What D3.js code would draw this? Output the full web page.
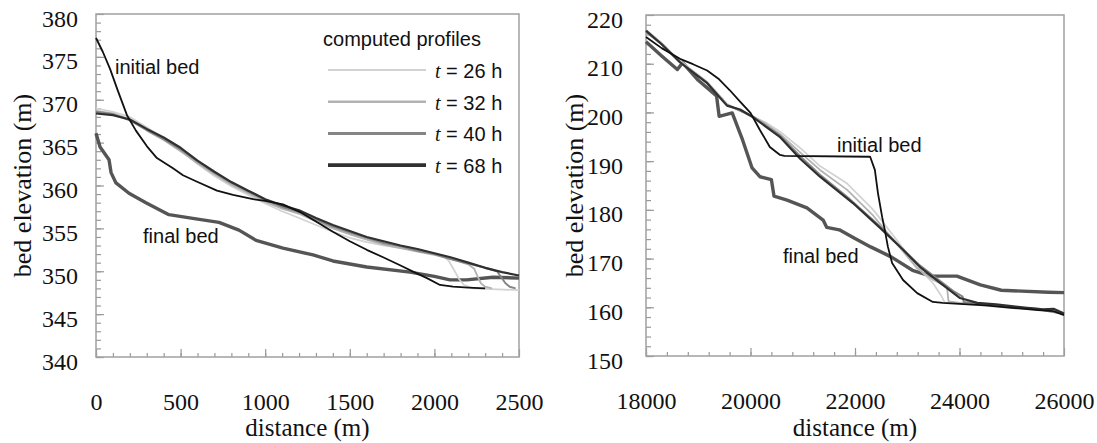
<!DOCTYPE html>
<html>
<head>
<meta charset="utf-8">
<script src="https://cdn.jsdelivr.net/npm/d3@7"></script>
<style>
    body { margin: 0; background: #fff; }
    svg { display: block; }
    .tick-label { font-family: 'Liberation Serif', 'Times New Roman', serif; font-size: 24px; fill: #111; }
</style>
</head>
<body>
<div class="chart-wrapper"></div>
<script>
// ---- left panel (reservoir reach, 0 - 2500 m) ----
var leftInitial = [[0, 377.2], [40, 375.6], [83, 373.6], [130, 371.0], [183, 368.2], [236, 366.4], [300, 364.6], [360, 363.2], [455, 362.0], [514, 361.2], [591, 360.5], [715, 359.4], [810, 358.9], [928, 358.4], [1000, 358.2], [1105, 357.8], [1206, 356.9], [1300, 355.8], [1400, 354.6], [1500, 353.5], [1600, 352.5], [1700, 351.6], [1797, 350.7], [1880, 349.9], [1956, 349.2], [2033, 348.4], [2110, 348.2], [2200, 348.1], [2300, 348.0]];
var leftFinal = [[0, 366.1], [24, 364.5], [77, 363.0], [89, 361.5], [118, 360.3], [195, 359.1], [295, 358.0], [431, 356.6], [591, 356.1], [727, 355.7], [845, 354.8], [946, 353.6], [1105, 352.7], [1283, 351.9], [1400, 351.2], [1600, 350.5], [1856, 349.9], [2000, 349.4], [2092, 349.0], [2190, 349.0], [2346, 349.3], [2500, 349.2]];
var left26h = [[0, 369.0], [100, 368.6], [200, 368.0], [300, 366.8], [400, 365.5], [500, 364.1], [600, 362.5], [700, 361.1], [800, 359.9], [900, 358.9], [1000, 357.9], [1100, 357.0], [1200, 356.2], [1300, 355.4], [1400, 354.6], [1500, 353.9], [1600, 353.4], [1700, 353.0], [1800, 352.7], [1900, 352.4], [2000, 352.1], [2050, 351.8], [2085, 351.2], [2115, 350.2], [2145, 349.1], [2175, 348.4], [2230, 348.0], [2500, 347.8]];
var left32h = [[0, 368.7], [100, 368.4], [200, 367.7], [300, 366.4], [400, 365.3], [500, 364.0], [600, 362.6], [700, 361.3], [800, 360.1], [900, 359.1], [1000, 358.1], [1100, 357.3], [1200, 356.7], [1300, 355.8], [1400, 355.0], [1500, 354.3], [1600, 353.7], [1700, 353.1], [1800, 352.7], [1900, 352.3], [2000, 351.9], [2100, 351.4], [2200, 350.8], [2235, 350.3], [2255, 349.4], [2275, 348.6], [2300, 348.2], [2340, 348.0]];
var left40h = [[0, 368.6], [100, 368.3], [200, 367.6], [300, 366.5], [400, 365.4], [500, 364.2], [600, 362.8], [700, 361.5], [800, 360.3], [900, 359.3], [1000, 358.3], [1100, 357.5], [1200, 356.9], [1300, 356.0], [1400, 355.2], [1500, 354.5], [1600, 353.9], [1700, 353.3], [1800, 352.9], [1900, 352.4], [2000, 352.0], [2100, 351.4], [2200, 350.9], [2300, 350.4], [2370, 350.0], [2395, 349.3], [2420, 348.6], [2445, 348.2], [2480, 348.0]];
var left68h = [[0, 368.4], [100, 368.2], [200, 367.7], [300, 366.6], [400, 365.6], [500, 364.4], [600, 362.9], [700, 361.6], [800, 360.4], [900, 359.4], [1000, 358.4], [1100, 357.7], [1200, 357.1], [1300, 356.2], [1400, 355.4], [1500, 354.7], [1600, 354.0], [1700, 353.5], [1800, 353.0], [1900, 352.6], [2000, 352.1], [2100, 351.6], [2200, 351.0], [2300, 350.4], [2400, 349.9], [2500, 349.5]];

// ---- right panel (dam reach, 18000 - 26000 m) ----
var rightInitial = [[18000, 215.5], [18300, 213.2], [18650, 211.0], [18900, 209.9], [19170, 208.6], [19400, 206.8], [19600, 204.6], [19800, 202.2], [20000, 199.9], [20180, 196.4], [20370, 192.9], [20560, 191.3], [20650, 191.1], [22290, 190.9], [22380, 188.2], [22440, 183.4], [22520, 178.5], [22570, 175.9], [22630, 172.4], [22710, 169.1], [22920, 165.6], [23190, 162.9], [23490, 161.1], [23680, 160.9], [24000, 160.7], [24500, 160.4], [25000, 159.9], [25500, 159.4], [25800, 159.2], [26000, 158.4]];
var rightFinal = [[18000, 214.5], [18300, 211.6], [18600, 208.8], [18700, 210.2], [19000, 206.6], [19350, 203.4], [19400, 199.2], [19650, 199.9], [19850, 194.3], [20030, 188.6], [20180, 186.8], [20400, 186.2], [20450, 182.8], [20700, 182.0], [21080, 180.4], [21390, 177.9], [21460, 176.4], [21700, 175.9], [22000, 174.1], [22300, 172.4], [22700, 170.3], [23100, 167.6], [23450, 166.4], [23950, 166.4], [24400, 164.6], [24800, 163.5], [25700, 163.1], [26000, 163.0]];
var right26h = [[18000, 217.0], [18300, 214.3], [18650, 210.6], [19170, 206.3], [19550, 201.8], [19800, 200.3], [20050, 199.1], [20300, 197.9], [20560, 196.1], [20950, 192.7], [21330, 189.0], [21850, 185.4], [22350, 180.0], [22800, 173.8], [23190, 168.3], [23490, 165.0], [23660, 162.2], [23720, 160.9], [24000, 160.8], [24500, 160.3], [25000, 159.8], [25500, 159.5], [26000, 158.9]];
var right32h = [[18000, 216.6], [18300, 214.1], [18650, 210.4], [19170, 206.2], [19550, 201.6], [19800, 200.5], [20050, 199.2], [20300, 197.6], [20560, 195.6], [20950, 191.8], [21330, 188.2], [21850, 184.1], [22350, 178.8], [22800, 173.0], [23190, 168.0], [23500, 165.6], [23760, 164.2], [23790, 161.2], [24000, 160.9], [24500, 160.5], [25000, 160.0], [25500, 159.7], [26000, 158.8]];
var right40h = [[18000, 216.5], [18300, 214.0], [18650, 210.3], [19170, 206.1], [19550, 201.5], [19800, 200.4], [20050, 199.1], [20560, 195.3], [20950, 191.0], [21330, 187.2], [21900, 182.2], [22450, 176.9], [22900, 172.1], [23240, 168.6], [23630, 165.4], [23900, 163.2], [24060, 162.2], [24080, 161.1], [24500, 160.6], [25000, 160.1], [25500, 159.6], [26000, 158.6]];
var right68h = [[18000, 216.8], [18300, 214.0], [18650, 210.3], [19170, 206.0], [19550, 201.4], [19800, 200.6], [20050, 199.0], [20560, 195.0], [20950, 190.5], [21330, 186.8], [21960, 181.4], [22480, 176.3], [22920, 171.8], [23240, 168.3], [23630, 165.0], [24010, 161.9], [24340, 160.9], [24700, 160.6], [25200, 160.0], [25600, 159.6], [25800, 159.7], [26000, 158.7]];

var legendLabels = ["26", "32", "40", "68"];
var leftXTicks = [0, 500, 1000, 1500, 2000, 2500];
var leftYTicks = [340, 345, 350, 355, 360, 365, 370, 375, 380];
var rightXTicks = [18000, 20000, 22000, 24000, 26000];
var rightYTicks = [150, 160, 170, 180, 190, 200, 210, 220];

var computedStyle = [
    {color: "#d2d2d2", width: 1.7, legendWidth: 2.2},
    {color: "#b2b2b2", width: 1.8, legendWidth: 2.6},
    {color: "#858585", width: 2.0, legendWidth: 3.0},
    {color: "#303030", width: 2.2, legendWidth: 3.6}
];

var serif = "'Liberation Serif', 'Times New Roman', serif";
var sans = "'Liberation Sans', Arial, sans-serif";

var svg = d3.select(".chart-wrapper").append("svg")
        .attr("width", 1097)
        .attr("height", 443)
        .style("background-color", "#fff");

//------------------------------------------------------------------
/**
 * draws one panel: frame, inner ticks, labels, profiles
 */
function drawPanel(opt) {
    var x = d3.scaleLinear().domain(opt.xDomain).range([opt.left, opt.right]);
    var y = d3.scaleLinear().domain(opt.yDomain).range([opt.bottom, opt.top]);
    var g = svg.append("g");

    // minor ticks
    g.append("g")
            .attr("transform", "translate(0," + opt.bottom + ")")
            .call(d3.axisBottom(x).tickValues(d3.range(opt.xDomain[0], opt.xDomain[1], opt.xMinor)).tickSize(-4).tickFormat(""));
    g.append("g")
            .attr("transform", "translate(" + opt.left + ",0)")
            .call(d3.axisLeft(y).tickValues(d3.range(opt.yDomain[0], opt.yDomain[1], opt.yMinor)).tickSize(-5).tickFormat(""));

    // major ticks with labels
    var xAxis = g.append("g")
            .attr("transform", "translate(0," + opt.bottom + ")")
            .call(d3.axisBottom(x).tickValues(opt.xTicks).tickSize(-8).tickPadding(0).tickFormat(d3.format("d")));
    xAxis.attr("font-family", null).attr("font-size", null);
    xAxis.selectAll("text")
            .attr("class", "tick-label")
            .attr("y", opt.xLabelY)
            .attr("dy", null)
            .attr("fill", null);
    var yAxis = g.append("g")
            .attr("transform", "translate(" + opt.left + ",0)")
            .call(d3.axisLeft(y).tickValues(opt.yTicks).tickSize(-8).tickPadding(opt.yPad).tickFormat(d3.format("d")));
    yAxis.attr("font-family", null).attr("font-size", null);
    yAxis.selectAll("text")
            .attr("class", "tick-label")
            .attr("dy", "12px")
            .attr("fill", null);

    g.selectAll(".domain").remove();
    g.selectAll(".tick line").style("stroke", "#999").style("stroke-width", 1.2);

    // frame
    g.append("rect")
            .attr("x", opt.left)
            .attr("y", opt.top)
            .attr("width", opt.right - opt.left)
            .attr("height", opt.bottom - opt.top)
            .style("fill", "none")
            .style("stroke", "#a0a0a0")
            .style("stroke-width", 1.5);

    // axis titles
    g.append("text")
            .attr("x", (opt.left + opt.right) / 2)
            .attr("y", 436)
            .attr("text-anchor", "middle")
            .style("font-family", serif)
            .style("font-size", "25px")
            .style("fill", "#111")
            .text("distance (m)");
    g.append("text")
            .attr("transform", "translate(" + opt.titleX + "," + (opt.top + opt.bottom) / 2 + ") rotate(-90)")
            .attr("text-anchor", "middle")
            .attr("dy", "0.35em")
            .style("font-family", serif)
            .style("font-size", "26px")
            .style("fill", "#111")
            .text("bed elevation (m)");

    var line = d3.line()
            .x(function (d) { return x(d[0]); })
            .y(function (d) { return y(d[1]); });

    var plot = g.append("g").attr("class", "profiles");
    plot.append("path")
            .datum(opt.finalBed)
            .attr("d", line)
            .style("fill", "none")
            .style("stroke", "#555")
            .style("stroke-width", 3.4)
            .style("stroke-linejoin", "round");
    opt.computed.forEach(function (series, i) {
        plot.append("path")
                .datum(series)
                .attr("d", line)
                .style("fill", "none")
                .style("stroke", computedStyle[i].color)
                .style("stroke-width", computedStyle[i].width)
                .style("stroke-linejoin", "round");
    });
    plot.append("path")
            .datum(opt.initialBed)
            .attr("d", line)
            .style("fill", "none")
            .style("stroke", "#111")
            .style("stroke-width", 1.8)
            .style("stroke-linejoin", "round");

    // annotations
    opt.notes.forEach(function (n) {
        g.append("text")
                .attr("x", x(n.at[0]))
                .attr("y", y(n.at[1]))
                .style("font-family", sans)
                .style("font-size", "20px")
                .style("fill", "#111")
                .text(n.text);
    });
}

drawPanel({
    left: 96, right: 519, top: 14, bottom: 357, titleX: 22, yPad: 18, xLabelY: 53,
    xDomain: [0, 2500], yDomain: [340, 380],
    xTicks: leftXTicks, yTicks: leftYTicks, xMinor: 100, yMinor: 1,
    initialBed: leftInitial, finalBed: leftFinal,
    computed: [left26h, left32h, left40h, left68h],
    notes: [{text: "initial bed", at: [112, 373]}, {text: "final bed", at: [278, 353.3]}]
});

drawPanel({
    left: 646, right: 1064, top: 15, bottom: 356, titleX: 574, yPad: 23, xLabelY: 53,
    xDomain: [18000, 26000], yDomain: [150, 220],
    xTicks: rightXTicks, yTicks: rightYTicks, xMinor: 400, yMinor: 2,
    initialBed: rightInitial, finalBed: rightFinal,
    computed: [right26h, right32h, right40h, right68h],
    notes: [{text: "initial bed", at: [21656, 191.9]}, {text: "final bed", at: [20622, 169.1]}]
});

// legend (left panel)
var legend = svg.append("g").attr("class", "legend");
legend.append("text")
        .attr("x", 402)
        .attr("y", 46)
        .attr("text-anchor", "middle")
        .style("font-family", sans)
        .style("font-size", "20px")
        .style("fill", "#111")
        .text("computed profiles");
var item = legend.selectAll(".item")
        .data(legendLabels)
        .enter().append("g")
        .attr("class", "item")
        .attr("transform", function (d, i) {
            return "translate(0," + (70 + i * 31.7) + ")";
        });
item.append("line")
        .attr("x1", 328)
        .attr("x2", 426)
        .style("stroke", function (d, i) { return computedStyle[i].color; })
        .style("stroke-width", function (d, i) { return computedStyle[i].legendWidth; });
var label = item.append("text")
        .attr("x", 435)
        .attr("y", 8)
        .style("font-family", sans)
        .style("font-size", "20px")
        .style("fill", "#111");
label.append("tspan")
        .style("font-family", serif)
        .style("font-style", "italic")
        .text("t");
label.append("tspan")
        .text(function (d) { return " = " + d + " h"; });
</script>
</body>
</html>
